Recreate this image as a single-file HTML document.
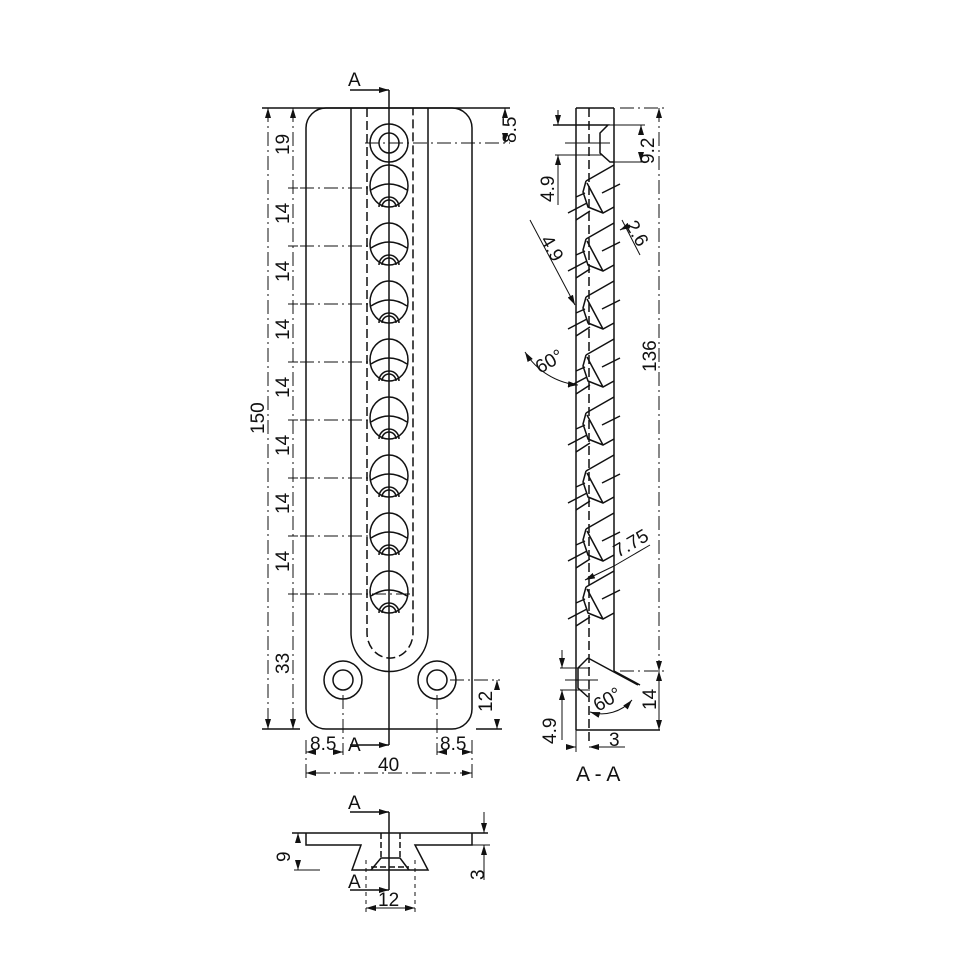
<!DOCTYPE html>
<html><head><meta charset="utf-8"><style>
html,body{margin:0;padding:0;background:#fff}
svg{display:block}
text{font-family:"Liberation Sans",sans-serif;font-size:19px;fill:#111}
</style></head><body>
<svg width="960" height="960" viewBox="0 0 960 960" xmlns="http://www.w3.org/2000/svg">
<defs>
<marker id="ar" viewBox="0 0 10 6" refX="10" refY="3" markerWidth="10" markerHeight="6" orient="auto-start-reverse" markerUnits="userSpaceOnUse"><path d="M0,0L10,3L0,6z" fill="#111"/></marker>
<g id="fh">
<ellipse cx="389" cy="186" rx="19" ry="21"/>
<path d="M371,190 Q389,178 407,190"/>
<path d="M379,207 A10,10 0 0 1 399,207 M382,207 A7,7 0 0 1 396,207"/>
</g>
<g id="sh">
<path d="M586,181 L614,165 M586,181 L583,192 L588,207 L603,213 L614,207 M587,183 L603,213"/>
<path d="M568,213 L587,203 M576,220 L590,211 M576,197 L585,193"/>
<path d="M602,193 L620,184"/>
</g>
</defs>
<g fill="none" stroke="#111" stroke-width="1.5">
<path d="M326,108 H452 A20,20 0 0 1 472,128 V709 A20,20 0 0 1 452,729 H326 A20,20 0 0 1 306,709 V128 A20,20 0 0 1 326,108 Z"/>
<path d="M351,108 V633 A38.5,38.5 0 0 0 428,633 V108"/>
<path d="M367,108 V633 A22,24 0 0 0 413,633 V108" stroke-dasharray="9,4"/>
<circle cx="389" cy="143" r="19"/><circle cx="389" cy="143" r="10"/>
<use href="#fh"/><use href="#fh" y="58"/><use href="#fh" y="116"/><use href="#fh" y="174"/>
<use href="#fh" y="232"/><use href="#fh" y="290"/><use href="#fh" y="348"/><use href="#fh" y="406"/>
<circle cx="343" cy="680" r="19"/><circle cx="343" cy="680" r="10"/>
<circle cx="437" cy="680" r="19"/><circle cx="437" cy="680" r="10"/>
<line x1="389" y1="90" x2="389" y2="745"/>
<line x1="350" y1="90" x2="389" y2="90" marker-end="url(#ar)"/>
<line x1="350" y1="745" x2="389" y2="745" marker-end="url(#ar)"/>
<g stroke-width="1" stroke-dasharray="14,4,2,4">
<line x1="300" y1="188" x2="370" y2="188"/><line x1="300" y1="246" x2="370" y2="246"/>
<line x1="300" y1="304" x2="370" y2="304"/><line x1="300" y1="362" x2="370" y2="362"/>
<line x1="300" y1="420" x2="370" y2="420"/><line x1="300" y1="478" x2="370" y2="478"/>
<line x1="300" y1="536" x2="370" y2="536"/><line x1="300" y1="594" x2="410" y2="594"/>
<line x1="365" y1="143" x2="510" y2="143"/><line x1="450" y1="680" x2="500" y2="680"/>
<line x1="343" y1="695" x2="343" y2="755"/><line x1="437" y1="695" x2="437" y2="755"/>
<line x1="268" y1="108" x2="268" y2="729"/><line x1="293" y1="108" x2="293" y2="729"/>
<line x1="306" y1="740" x2="306" y2="778"/><line x1="472" y1="740" x2="472" y2="778"/>
</g>
<line x1="262" y1="108" x2="510" y2="108"/><line x1="262" y1="729" x2="300" y2="729"/>
<line x1="476" y1="729" x2="502" y2="729"/>
<g stroke-width="1">
<line x1="268" y1="118" x2="268" y2="108" marker-end="url(#ar)"/><line x1="268" y1="719" x2="268" y2="729" marker-end="url(#ar)"/>
<line x1="293" y1="118" x2="293" y2="108" marker-end="url(#ar)"/><line x1="293" y1="719" x2="293" y2="729" marker-end="url(#ar)"/>
<path d="M288,188h10M288,246h10M288,304h10M288,362h10M288,420h10M288,478h10M288,536h10M288,594h10"/>
<line x1="505" y1="118" x2="505" y2="108" marker-end="url(#ar)"/><line x1="505" y1="133" x2="505" y2="143" marker-end="url(#ar)"/>
<line x1="497" y1="690" x2="497" y2="680" marker-end="url(#ar)"/><line x1="497" y1="719" x2="497" y2="729" marker-end="url(#ar)"/>
<line x1="316" y1="752" x2="306" y2="752" marker-end="url(#ar)"/><line x1="333" y1="752" x2="343" y2="752" marker-end="url(#ar)"/>
<line x1="447" y1="752" x2="437" y2="752" marker-end="url(#ar)"/><line x1="462" y1="752" x2="472" y2="752" marker-end="url(#ar)"/>
<line x1="316" y1="773" x2="306" y2="773" marker-end="url(#ar)"/><line x1="462" y1="773" x2="472" y2="773" marker-end="url(#ar)"/>
<line x1="316" y1="773" x2="462" y2="773" stroke-dasharray="14,4,2,4"/>
</g>
<!-- section A-A -->
<line x1="576" y1="108" x2="576" y2="730"/>
<line x1="589" y1="108" x2="589" y2="745" stroke-dasharray="9,4"/>
<line x1="614" y1="108" x2="614" y2="671"/>
<line x1="576" y1="108" x2="614" y2="108"/>
<path d="M553,125 H608 L600,133 V153 L610,162 H614"/>
<line x1="565" y1="143" x2="610" y2="143" stroke-width="1"/>
<use href="#sh"/><use href="#sh" y="58"/><use href="#sh" y="116"/><use href="#sh" y="174"/>
<use href="#sh" y="232"/><use href="#sh" y="290"/><use href="#sh" y="348"/><use href="#sh" y="406"/>
<path d="M588,658 L638,685 M614,671 L640,685 M588,658 L578,668 V688 L588,697"/>
<line x1="565" y1="680" x2="598" y2="680" stroke-width="1"/>
<line x1="576" y1="730" x2="660" y2="730"/>
<g stroke-width="1">
<line x1="555" y1="155" x2="603" y2="155"/>
<line x1="558" y1="110" x2="558" y2="125" marker-end="url(#ar)"/><line x1="558" y1="170" x2="558" y2="155" marker-end="url(#ar)"/>
<line x1="558" y1="170" x2="558" y2="205"/>
<line x1="608" y1="125" x2="645" y2="125"/><line x1="614" y1="162" x2="645" y2="162"/>
<line x1="641" y1="135" x2="641" y2="125" marker-end="url(#ar)"/><line x1="641" y1="152" x2="641" y2="162" marker-end="url(#ar)"/>
<line x1="659" y1="108" x2="659" y2="671" stroke-dasharray="14,4,2,4"/>
<line x1="620" y1="108" x2="665" y2="108" stroke-dasharray="14,4,2,4"/>
<line x1="620" y1="671" x2="665" y2="671" stroke-dasharray="14,4,2,4"/>
<line x1="659" y1="118" x2="659" y2="108" marker-end="url(#ar)"/><line x1="659" y1="661" x2="659" y2="671" marker-end="url(#ar)"/>
<line x1="659" y1="681" x2="659" y2="671" marker-end="url(#ar)"/><line x1="659" y1="720" x2="659" y2="730" marker-end="url(#ar)"/>
<line x1="659" y1="681" x2="659" y2="720"/>
<line x1="560" y1="668" x2="590" y2="668"/><line x1="560" y1="690" x2="590" y2="690"/>
<line x1="562" y1="650" x2="562" y2="668" marker-end="url(#ar)"/><line x1="562" y1="705" x2="562" y2="690" marker-end="url(#ar)"/>
<line x1="562" y1="705" x2="562" y2="740"/>
<line x1="566" y1="747" x2="576" y2="747" marker-end="url(#ar)"/><line x1="600" y1="747" x2="589" y2="747" marker-end="url(#ar)"/>
<line x1="600" y1="747" x2="625" y2="747"/><line x1="576" y1="730" x2="576" y2="752"/>
<path d="M632,700 A40,40 0 0 1 590,712" marker-start="url(#ar)" marker-end="url(#ar)"/>
<path d="M525,352 A70,70 0 0 0 578,385" marker-start="url(#ar)" marker-end="url(#ar)"/>
<line x1="530" y1="220" x2="575" y2="305" marker-end="url(#ar)"/>
<line x1="622" y1="220" x2="640" y2="255"/>
<line x1="630" y1="225" x2="620" y2="230" marker-end="url(#ar)"/>
<line x1="585" y1="580" x2="614" y2="566" marker-start="url(#ar)"/>
<line x1="614" y1="566" x2="650" y2="545"/>
</g>
<!-- bottom view -->
<path d="M292,833 H488 M306,833 V845 H361 L352,870 H428 L415,845 H472 V833"/>
<path d="M381,833 V858 M400,833 V858" stroke-dasharray="6,3"/>
<path d="M371,870 L381,858 H400 L409,870"/>
<line x1="371" y1="867" x2="409" y2="867" stroke-dasharray="6,3"/>
<line x1="389" y1="812" x2="389" y2="890"/>
<line x1="350" y1="812" x2="389" y2="812" marker-end="url(#ar)"/>
<line x1="350" y1="890" x2="389" y2="890" marker-end="url(#ar)"/>
<g stroke-width="1">
<line x1="294" y1="870" x2="320" y2="870"/>
<line x1="298" y1="843" x2="298" y2="833" marker-end="url(#ar)"/><line x1="298" y1="860" x2="298" y2="870" marker-end="url(#ar)"/>
<line x1="472" y1="845" x2="490" y2="845"/>
<line x1="484" y1="812" x2="484" y2="833" marker-end="url(#ar)"/><line x1="484" y1="880" x2="484" y2="845" marker-end="url(#ar)"/>
<line x1="366" y1="860" x2="366" y2="912" stroke-dasharray="4,4"/><line x1="415" y1="860" x2="415" y2="912" stroke-dasharray="4,4"/>
<line x1="376" y1="908" x2="366" y2="908" marker-end="url(#ar)"/><line x1="405" y1="908" x2="415" y2="908" marker-end="url(#ar)"/>
<line x1="376" y1="908" x2="405" y2="908"/>
</g>
</g>
<text x="348" y="86">A</text>
<text x="348" y="751">A</text>
<text x="310" y="750">8.5</text><text x="440" y="750">8.5</text>
<text x="378" y="771">40</text>
<text x="348" y="809">A</text><text x="348" y="888">A</text>
<text x="378" y="906">12</text>
<text transform="translate(290,862) rotate(-90)">9</text>
<text transform="translate(484,880) rotate(-90)">3</text>
<text transform="translate(264,434) rotate(-90)">150</text>
<text transform="translate(289,155) rotate(-90)">19</text>
<text transform="translate(289,224) rotate(-90)">14</text><text transform="translate(289,282) rotate(-90)">14</text>
<text transform="translate(289,340) rotate(-90)">14</text><text transform="translate(289,398) rotate(-90)">14</text>
<text transform="translate(289,456) rotate(-90)">14</text><text transform="translate(289,514) rotate(-90)">14</text>
<text transform="translate(289,572) rotate(-90)">14</text><text transform="translate(289,674) rotate(-90)">33</text>
<text transform="translate(516,143) rotate(-90)">8.5</text>
<text transform="translate(492,712) rotate(-90)">12</text>
<text transform="translate(654,164) rotate(-90)">9.2</text>
<text transform="translate(554,202) rotate(-90)">4.9</text>
<text transform="translate(656,372) rotate(-90)">136</text>
<text transform="translate(656,710) rotate(-90)">14</text>
<text transform="translate(556,744) rotate(-90)">4.9</text>
<text x="609" y="746">3</text>
<text x="576" y="781" style="font-size:21px">A - A</text>
<text transform="translate(540,240) rotate(60)">4.9</text>
<text transform="translate(625,225) rotate(60)">2.6</text>
<text transform="translate(540,374) rotate(-30)">60°</text>
<text transform="translate(598,712) rotate(-30)">60°</text>
<text transform="translate(618,558) rotate(-30)">7.75</text>
</svg>
</body></html>
